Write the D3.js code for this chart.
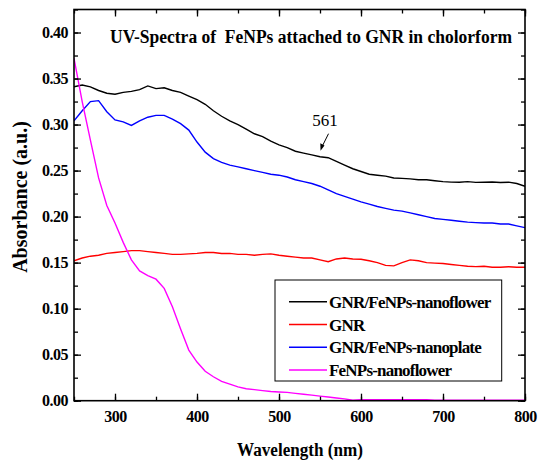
<!DOCTYPE html>
<html>
<head>
<meta charset="utf-8">
<script src="https://cdn.jsdelivr.net/npm/d3@7"></script>
<style>
  body { margin: 0; background: #fff; }
</style>
</head>
<body>
<div id="chart"></div>
<script>
// wavelength (nm) for every series
var wavelength = [250, 260, 270, 280, 290, 300, 310, 320, 330, 340, 350, 360, 370, 380, 390,
  400, 410, 420, 430, 440, 450, 460, 470, 480, 490, 500, 510, 520, 530, 540, 550, 560, 570,
  580, 590, 600, 610, 620, 630, 640, 650, 660, 670, 680, 690, 700, 710, 720, 730, 740, 750,
  760, 770, 780, 790, 800];

// absorbance
var nanoflower = [0.341, 0.343, 0.341, 0.337, 0.334, 0.333, 0.335, 0.336, 0.338, 0.342, 0.339,
  0.340, 0.337, 0.335, 0.331, 0.327, 0.322, 0.315, 0.309, 0.304, 0.300, 0.295, 0.290, 0.287,
  0.282, 0.278, 0.275, 0.271, 0.269, 0.267, 0.265, 0.264, 0.260, 0.256, 0.252, 0.249, 0.246,
  0.245, 0.244, 0.242, 0.2415, 0.241, 0.240, 0.240, 0.239, 0.238, 0.2375, 0.2374, 0.238,
  0.2372, 0.2374, 0.2376, 0.237, 0.2374, 0.236, 0.233];
var gnr = [0.152, 0.155, 0.157, 0.158, 0.160, 0.161, 0.162, 0.163, 0.163, 0.162, 0.161, 0.160,
  0.159, 0.159, 0.1595, 0.160, 0.161, 0.161, 0.160, 0.160, 0.159, 0.159, 0.158, 0.159, 0.1595,
  0.158, 0.157, 0.156, 0.155, 0.155, 0.153, 0.151, 0.154, 0.155, 0.154, 0.1537, 0.152, 0.150,
  0.147, 0.1465, 0.150, 0.153, 0.152, 0.150, 0.1495, 0.149, 0.148, 0.147, 0.146, 0.1457, 0.146,
  0.145, 0.145, 0.1455, 0.145, 0.145];
var nanoplate = [0.304, 0.315, 0.325, 0.326, 0.314, 0.305, 0.303, 0.299, 0.304, 0.308, 0.310,
  0.310, 0.306, 0.301, 0.294, 0.281, 0.270, 0.263, 0.259, 0.256, 0.254, 0.252, 0.250, 0.248,
  0.246, 0.245, 0.243, 0.240, 0.238, 0.236, 0.233, 0.229, 0.225, 0.222, 0.219, 0.216, 0.2135,
  0.211, 0.209, 0.207, 0.206, 0.204, 0.202, 0.200, 0.198, 0.197, 0.196, 0.195, 0.194, 0.1935,
  0.193, 0.193, 0.192, 0.192, 0.190, 0.188];
var fenps = [0.372, 0.325, 0.283, 0.242, 0.212, 0.193, 0.172, 0.153, 0.141, 0.136, 0.132, 0.122,
  0.102, 0.078, 0.055, 0.042, 0.032, 0.026, 0.021, 0.018, 0.015, 0.013, 0.012, 0.011, 0.010,
  0.0095, 0.009, 0.008, 0.007, 0.006, 0.005, 0.004, 0.003, 0.002, 0.0005, 0.001, 0.001, 0.001,
  0.001, 0.001, 0.001, 0.001, 0.001, 0.001, 0.0005, 0.0005, 0.0005, 0.0005, 0.0005, 0.0005,
  0.0005, 0.0005, 0.0005, 0.0005, 0.0005, 0.0005];

var seriesNames = ["GNR/FeNPs-nanoflower", "GNR", "GNR/FeNPs-nanoplate", "FeNPs-nanoflower"];
var seriesColors = ["#000000", "#ff0000", "#0000ff", "#ff00ff"];
var seriesValues = [nanoflower, gnr, nanoplate, fenps];

var xTicks = [300, 400, 500, 600, 700, 800];
var yTicks = [0.00, 0.05, 0.10, 0.15, 0.20, 0.25, 0.30, 0.35, 0.40];

var titleText = "UV-Spectra of  FeNPs attached to GNR in cholorform";
var peakLabel = "561";
var peakWavelength = 561;

var serif = "'Liberation Serif', 'Times New Roman', serif";

//set up the chart
var svgWidth = 538;
var svgHeight = 460;
var margin = { top: 9.5, right: 13, bottom: 59.3, left: 74 };
var width = svgWidth - margin.left - margin.right;
var height = svgHeight - margin.top - margin.bottom;

var svg = d3.select("#chart")
  .append("svg")
  .attr("width", svgWidth)
  .attr("height", svgHeight);

var chart = svg.append("g")
  .attr("transform", "translate(" + margin.left + "," + margin.top + ")");

// scales
var xScale = d3.scaleLinear().domain([250, 800]).range([0, width]);
var yScale = d3.scaleLinear().domain([0, 0.425]).range([height, 0]);

// clip so curves stay in the frame
chart.append("clipPath").attr("id", "plotClip")
  .append("rect").attr("width", width).attr("height", height);

// the curves
var line = d3.line()
  .x(function(d) { return xScale(d[0]); })
  .y(function(d) { return yScale(d[1]); });

seriesValues.forEach(function(vals, i) {
  chart.append("path")
    .datum(vals.map(function(v, j) { return [wavelength[j], v]; }))
    .attr("clip-path", "url(#plotClip)")
    .attr("fill", "none")
    .attr("stroke", seriesColors[i])
    .attr("stroke-width", 1.4)
    .attr("d", line);
});

// axes, ticks point inward on all four sides
var xMinor = d3.range(250, 801, 50);
var yMinor = d3.range(0, 0.426, 0.025);

function addAxis(axis, tf, labels) {
  var g = chart.append("g").attr("transform", tf).call(axis);
  g.select(".domain").remove();
  g.selectAll("line").attr("stroke", "#000").attr("stroke-width", 1.3);
  if (!labels) g.selectAll("text").remove();
  return g;
}

addAxis(d3.axisBottom(xScale).tickValues(xMinor).tickSize(-4).tickFormat(""), "translate(0," + height + ")", false);
addAxis(d3.axisTop(xScale).tickValues(xMinor).tickSize(-4).tickFormat(""), "translate(0,0)", false);
addAxis(d3.axisLeft(yScale).tickValues(yMinor).tickSize(-4).tickFormat(""), "translate(0,0)", false);
addAxis(d3.axisRight(yScale).tickValues(yMinor).tickSize(-4).tickFormat(""), "translate(" + width + ",0)", false);

var xAxis = addAxis(d3.axisBottom(xScale).tickValues(xTicks).tickSize(-7).tickPadding(10).tickFormat(d3.format("d")),
  "translate(0," + height + ")", true);
addAxis(d3.axisTop(xScale).tickValues(xTicks).tickSize(-7).tickFormat(""), "translate(0,0)", false);
var yAxis = addAxis(d3.axisLeft(yScale).tickValues(yTicks).tickSize(-7).tickPadding(6).tickFormat(d3.format(".2f")),
  "translate(0,0)", true);
addAxis(d3.axisRight(yScale).tickValues(yTicks).tickSize(-7).tickFormat(""), "translate(" + width + ",0)", false);

[xAxis, yAxis].forEach(function(ax) {
  ax.selectAll("text")
    .style("font-family", serif)
    .style("font-weight", "bold")
    .style("font-size", "16px")
    .style("letter-spacing", "-0.5px")
    .attr("fill", "#000");
});

// frame
chart.append("rect")
  .attr("width", width)
  .attr("height", height)
  .attr("fill", "none")
  .attr("stroke", "#000")
  .attr("stroke-width", 1.6);

// title inside the plot
chart.append("text")
  .attr("x", 36)
  .attr("y", 33.5)
  .style("font-family", serif)
  .style("font-size", "18px")
  .style("font-weight", "bold")
  .style("white-space", "pre")
  .attr("textLength", 402)
  .attr("lengthAdjust", "spacingAndGlyphs")
  .text(titleText);

// peak note with arrow
var peakX = xScale(peakWavelength);
var peakY = yScale(0.264);
chart.append("text")
  .attr("x", peakX - 4)
  .attr("y", peakY - 32)
  .attr("text-anchor", "middle")
  .style("font-family", serif)
  .style("font-size", "17px")
  .text(peakLabel);
chart.append("line")
  .attr("x1", peakX - 0.5).attr("y1", peakY - 24)
  .attr("x2", peakX - 7).attr("y2", peakY - 11)
  .attr("stroke", "#000").attr("stroke-width", 1);
chart.append("path")
  .attr("d", "M" + (peakX - 8.5) + "," + (peakY - 7) +
    " L" + (peakX - 8.7) + "," + (peakY - 14.5) +
    " L" + (peakX - 4.5) + "," + (peakY - 12.3) + " Z")
  .attr("fill", "#000");

// legend
var legend = chart.append("g")
  .attr("transform", "translate(" + (275 - margin.left) + "," + (280 - margin.top) + ")");
legend.append("rect")
  .attr("width", 226.7)
  .attr("height", 101)
  .attr("fill", "#fff")
  .attr("stroke", "#000")
  .attr("stroke-width", 1);

seriesNames.forEach(function(name, i) {
  var yy = 21.7 + i * 22.8;
  legend.append("line")
    .attr("x1", 14).attr("x2", 52)
    .attr("y1", yy).attr("y2", yy)
    .attr("stroke", seriesColors[i])
    .attr("stroke-width", 1.5);
  legend.append("text")
    .attr("x", 54)
    .attr("y", yy + 6)
    .style("font-family", serif)
    .style("font-size", "17px")
    .style("font-weight", "bold")
    .style("letter-spacing", "-0.8px")
    .text(name);
});

// axis titles
svg.append("text")
  .attr("transform", "translate(27,197) rotate(-90)")
  .attr("text-anchor", "middle")
  .style("font-family", serif)
  .style("font-size", "20px")
  .style("font-weight", "bold")
  .text("Absorbance (a.u.)");

svg.append("text")
  .attr("x", 300)
  .attr("y", 456)
  .attr("text-anchor", "middle")
  .style("font-family", serif)
  .style("font-size", "18px")
  .style("font-weight", "bold")
  .attr("textLength", 126)
  .attr("lengthAdjust", "spacingAndGlyphs")
  .text("Wavelength (nm)");
</script>
</body>
</html>
